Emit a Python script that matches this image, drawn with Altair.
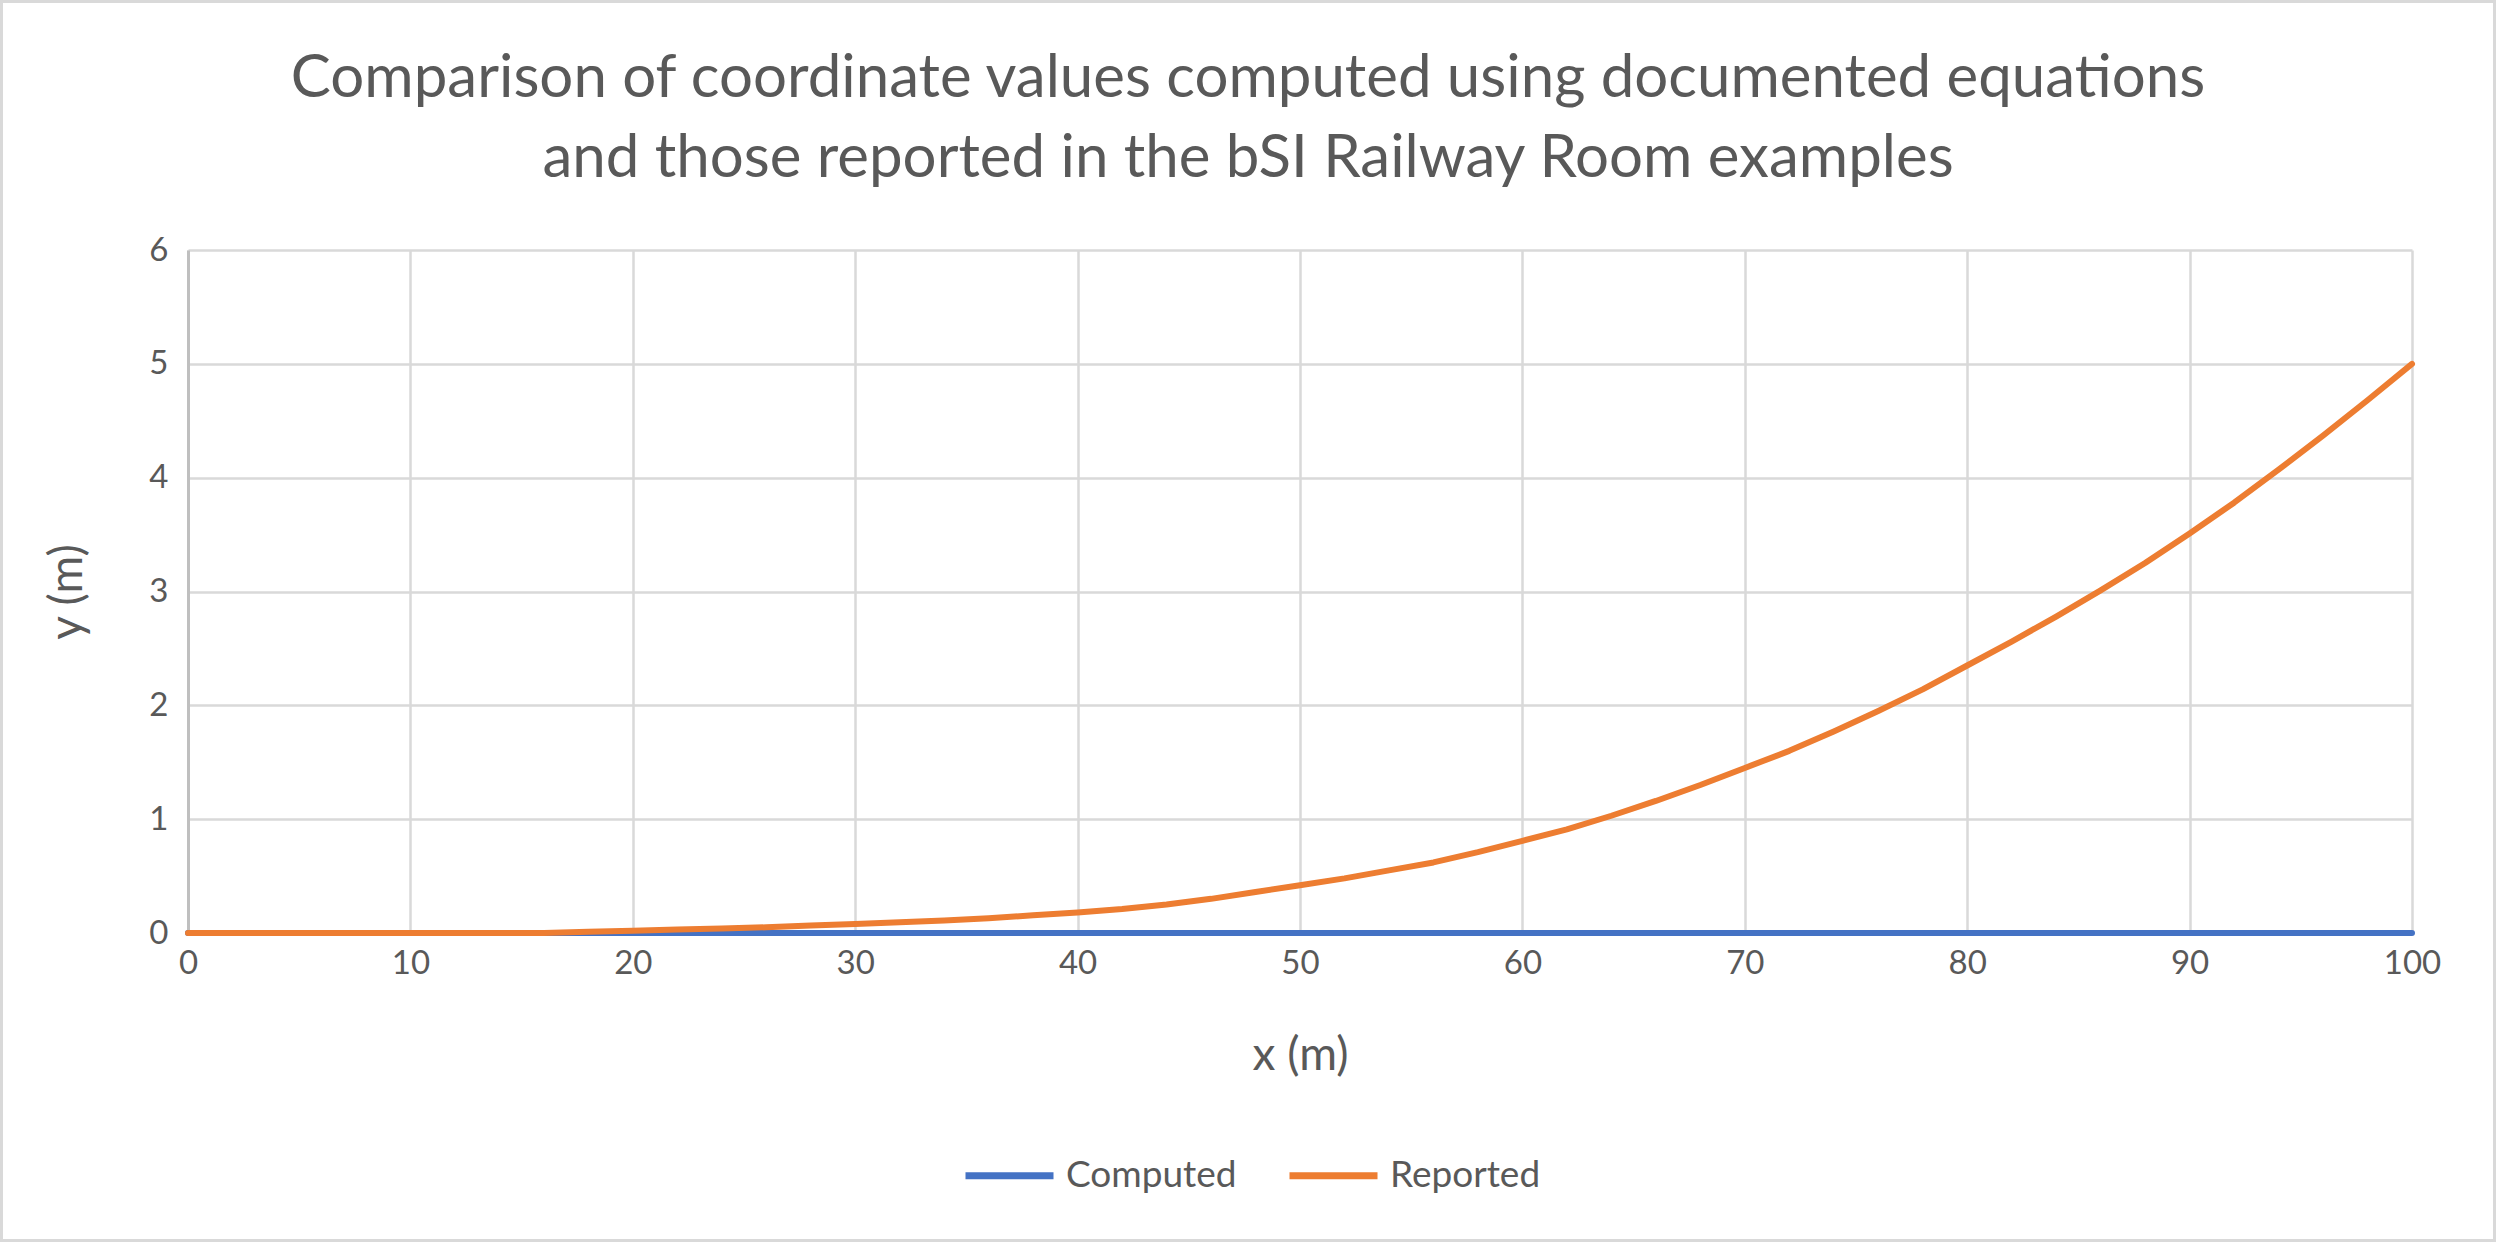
import altair as alt
import pandas as pd

# x positions (m)
x_values = [0, 2, 4, 6, 8, 10, 12, 14, 16, 18, 20, 22, 24, 26, 28, 30, 32, 34, 36, 38,
            40, 42, 44, 46, 48, 50, 52, 54, 56, 58, 60, 62, 64, 66, 68, 70, 72, 74, 76, 78,
            80, 82, 84, 86, 88, 90, 92, 94, 96, 98, 100]

# Computed y (m)
computed = [0.0] * len(x_values)

# Reported y (m)
reported = [0.0, 0.0, 0.0, 0.0, 0.0, 0.0, 0.0, 0.0, 0.0, 0.01, 0.02, 0.03, 0.04, 0.05, 0.065,
            0.08, 0.095, 0.11, 0.13, 0.155, 0.18, 0.21, 0.25, 0.30, 0.36, 0.42, 0.48, 0.55,
            0.62, 0.71, 0.81, 0.91, 1.03, 1.16, 1.30, 1.45, 1.60, 1.77, 1.95, 2.14, 2.35,
            2.56, 2.78, 3.01, 3.25, 3.51, 3.78, 4.07, 4.37, 4.68, 5.0]

series_names = ["Computed", "Reported"]
series_colors = ["#4472C4", "#ED7D31"]

title_lines = ["Comparison of coordinate values computed using documented equations",
               "and those reported in the bSI Railway Room examples"]

rows = []
for i, s in enumerate(series_names):
    vals = computed if s == "Computed" else reported
    for j, (xv, yv) in enumerate(zip(x_values, vals)):
        rows.append({"x": xv, "y": yv, "series": s, "order": i * 1000 + j})
df = pd.DataFrame(rows)

W, H = 2224, 683
PL, PT, PR, PB = 188, 250, 84, 309
FONT = "Lato"
TXT = "#595959"

lines = alt.Chart(df).mark_line(strokeWidth=6, strokeCap="round", strokeJoin="round").encode(
    x=alt.X("x:Q", title="x (m)",
            scale=alt.Scale(domain=[0, 100], nice=False, zero=False),
            axis=alt.Axis(values=list(range(0, 101, 10)), grid=True, ticks=False,
                          domain=False, labelPadding=14, labelFontSize=33,
                          labelFlush=False,
                          titleFontSize=46, titleX=W / 2, titleY=122,
                          titleBaseline="middle")),
    y=alt.Y("y:Q", title="y (m)",
            scale=alt.Scale(domain=[0, 6], nice=False),
            axis=alt.Axis(values=[0, 1, 2, 3, 4, 5, 6], grid=True, ticks=False,
                          domain=True, domainColor="#BFBFBF", domainWidth=3,
                          labelPadding=20, labelFontSize=33, labelFlush=False,
                          titleFontSize=46, titleX=-121, titleY=H / 2,
                          titleBaseline="middle", titleAngle=270)),
    color=alt.Color("series:N",
                    scale=alt.Scale(domain=series_names, range=series_colors),
                    legend=alt.Legend(title=None, orient="none", direction="horizontal",
                                      legendX=774, legendY=878,
                                      symbolType="stroke", symbolSize=7744,
                                      symbolStrokeWidth=7, labelFontSize=37,
                                      labelOffset=9, columnPadding=38, labelLimit=0,
                                      labelColor=TXT, labelFont=FONT)),
    detail="series:N",
    order="order:Q",
)

border = alt.Chart(pd.DataFrame({"a": [0]})).mark_rect(
    fillOpacity=0, stroke="#D9D9D9", strokeWidth=3
).encode(
    x=alt.value(-PL + 1.5), x2=alt.value(W + PR - 1.5),
    y=alt.value(-PT + 1.5), y2=alt.value(H + PB - 1.5),
)

chart = alt.layer(lines, border).properties(
    width=W, height=H,
    autosize=alt.AutoSizeParams(type="none"),
    padding={"left": PL, "top": PT, "right": PR, "bottom": PB},
    background="white",
    title=alt.TitleParams(text=title_lines, anchor="middle", frame="group",
                          fontSize=60, lineHeight=80, font=FONT, color=TXT,
                          fontWeight="normal", offset=0, dx=-52, dy=190),
).configure_view(stroke=None).configure_axis(
    gridColor="#D9D9D9", gridWidth=2.5, labelColor=TXT, titleColor=TXT,
    labelFont=FONT, titleFont=FONT, titleFontWeight="normal"
)

chart.save("out.html", embed_options={"renderer": "svg", "actions": False})
